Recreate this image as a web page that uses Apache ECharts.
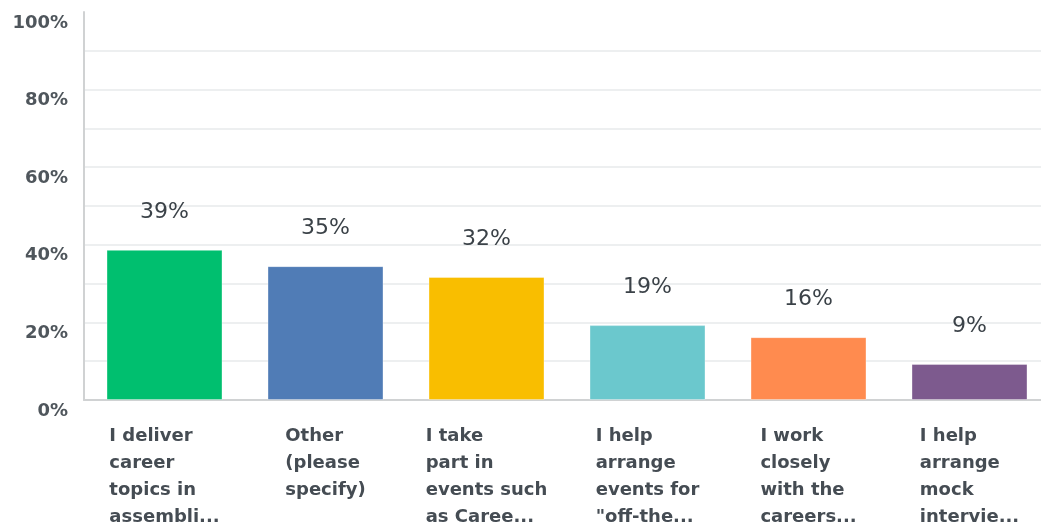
<!DOCTYPE html>
<html>
<head>
<meta charset="utf-8">
<script src="https://cdn.jsdelivr.net/npm/echarts@6/dist/echarts.min.js"></script>
<style>
html,body{margin:0;padding:0;background:#fff;overflow:hidden;width:1041px;height:527px;}
#chart{width:1050px;height:527px;}
</style>
</head>
<body>
<div id="chart"></div>
<script>
const categories = [
  'I deliver\ncareer\ntopics in\nassembli...',
  'Other\n(please\nspecify)',
  'I take\npart in\nevents such\nas Caree...',
  'I help\narrange\nevents for\n"off-the...',
  'I work\nclosely\nwith the\ncareers...',
  'I help\narrange\nmock\nintervie...'
];
const values = [38.7, 34.5, 31.7, 19.3, 16.2, 9.3];
const barColors = ['#00bf6f', '#507cb6', '#f9be00', '#6bc8cd', '#ff8b4f', '#7d5a8e'];
const yTicks = [0, 20, 40, 60, 80, 100];

const chart = echarts.init(document.getElementById('chart'), null, {renderer: 'canvas'});
chart.setOption({
  animation: false,
  backgroundColor: '#ffffff',
  grid: {left: 84, top: 12, bottom: 127, right: 0, containLabel: false},
  xAxis: {
    type: 'category',
    data: categories,
    axisLine: {show: true, lineStyle: {color: '#d0d2d3', width: 2}},
    axisTick: {show: false},
    splitLine: {show: false},
    axisLabel: {
      interval: 0,
      margin: 23,
      align: 'center',
      verticalAlign: 'top',
      formatter: function (v) {
        return v.split('\n').map(function (s) { return '{a|' + s + '}'; }).join('\n');
      },
      rich: {
        a: {
          align: 'left',
          fontFamily: 'DejaVu Sans',
          fontWeight: 'bold',
          fontSize: 18,
          lineHeight: 27,
          color: '#454c53'
        }
      }
    }
  },
  yAxis: {
    type: 'value',
    min: 0,
    max: 100,
    interval: 10,
    axisLine: {show: true, lineStyle: {color: '#d0d2d3', width: 2}},
    axisTick: {show: false},
    splitLine: {show: true, showMinLine: false, showMaxLine: false, lineStyle: {color: '#edeff0', width: 2}},
    axisLabel: {
      margin: 16,
      verticalAlign: 'top',
      padding: [2, 0, 0, 0],
      fontFamily: 'DejaVu Sans',
      fontWeight: 'bold',
      fontSize: 18,
      color: '#4f565c',
      formatter: function (v) { return yTicks.indexOf(v) >= 0 ? v + '%' : ''; }
    }
  },
  series: [{
    type: 'bar',
    barWidth: 116,
    data: values.map(function (v, i) {
      return {value: v, itemStyle: {color: barColors[i], borderColor: 'rgba(255,255,255,0.35)', borderWidth: 1}};
    }),
    label: {
      show: true,
      position: 'top',
      distance: 27,
      fontFamily: 'DejaVu Sans',
      fontSize: 22,
      color: '#3b4248',
      formatter: function (p) { return Math.round(p.value) + '%'; }
    }
  }]
});
</script>
</body>
</html>
